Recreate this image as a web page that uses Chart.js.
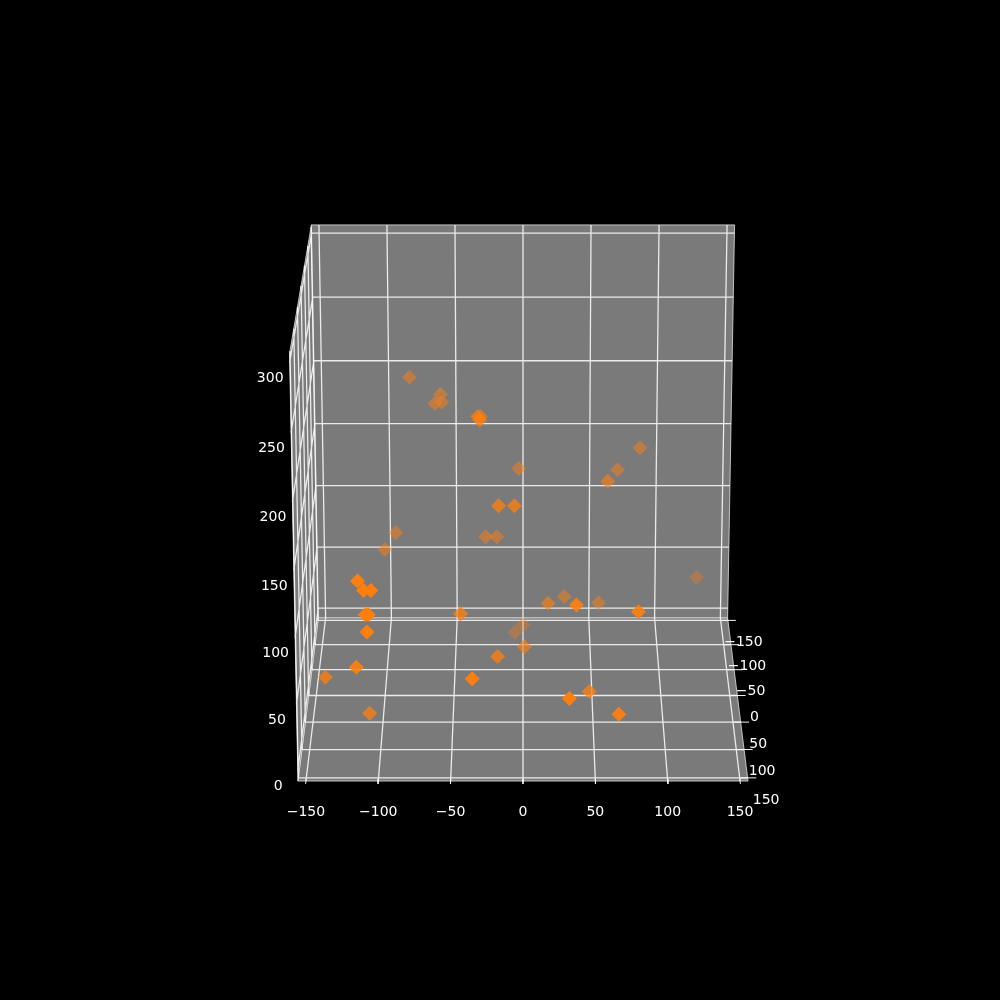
<!DOCTYPE html>
<html>
<head>
<meta charset="utf-8">
<style>
  html, body { margin: 0; padding: 0; background: #000; }
  canvas { display: block; }
</style>
<script src="https://cdn.jsdelivr.net/npm/chart.js"></script>
</head>
<body>
<canvas id="chart" width="1000" height="1000"></canvas>
<script type="text/javascript">

const xTicks = [-150, -100, -50, 0, 50, 100, 150];
const yTicks = [-150, -100, -50, 0, 50, 100, 150];
const zTicks = [0, 50, 100, 150, 200, 250, 300];

const pointX = [-81, -59, -58, -63, -32, -30, -30, 84, 68, -3, 60, -17, -6, -27, -19, -92, -100, 128, -113, -109, -104, -108, -106, -107, -116, -140, -109, -44, 18, 30, 37, 55, 80, 0, -6, 1, -18, -35, 32, 47, 67];
const pointY = [-31, -31, -31, -31, 16, 16, 62, -31, -31, -31, 16, 62, 62, -31, -31, -31, -31, -78, 140, 140, 140, 140, 140, 140, 109, 62, 62, 62, 16, -31, 109, -31, 109, -78, -78, 16, 62, 140, 140, 62, 109];
const pointZ = [228, 215, 209, 208, 214, 214, 227, 174, 157, 158, 165, 163, 163, 105, 105, 108, 95, 55, 136, 129, 129, 111, 111, 98, 59, 32, 4, 81, 71, 58, 106, 53, 101, 17, 11, 37, 48, 63, 48, 21, 23];

// axis limits of the 3d box
const xLim = [-155.5, 155.5];
const yLim = [-155.5, 155.5];
const zLim = [-8, 306.3];

// perspective camera, gives canvas pixels which go through the chart scales
function project(x, y, z) {
    const t = (yLim[1] - y) / (yLim[1] - yLim[0]);
    const h = (z - zLim[0]) / (zLim[1] - zLim[0]);
    const w = 0.691 + 0.069 * t - 0.025 * h;
    return {
        x: 523 + x / w,
        y: 500 - (-194.2 + 104.7 * t + 291.7 * h) / w,
    };
}

function segments(list) {
    const out = [];
    list.forEach(function (s) {
        out.push(project(s[0], s[1], s[2]), project(s[3], s[4], s[5]), { x: null, y: null });
    });
    return out;
}

function pane(corners) {
    return {
        data: corners.map(function (c) { return project(c[0], c[1], c[2]); }),
        showLine: true,
        fill: 'shape',
        backgroundColor: '#7a7a7a',
        borderColor: 'rgba(225,225,225,0.8)',
        borderWidth: 1,
        pointRadius: 0,
        tension: 0,
    };
}

function lines(list, color, width) {
    return {
        data: segments(list),
        showLine: true,
        fill: false,
        borderColor: color,
        borderWidth: width,
        pointRadius: 0,
        spanGaps: false,
        tension: 0,
    };
}

const [x0, x1] = xLim;
const [y0, y1] = yLim;
const [z0, z1] = zLim;

const gridLines = [];
xTicks.forEach(function (v) {
    gridLines.push([v, y0, z0, v, y1, z0]);
    gridLines.push([v, y0, z0, v, y0, z1]);
});
yTicks.forEach(function (v) {
    gridLines.push([x0, v, z0, x1, v, z0]);
    gridLines.push([x0, v, z0, x0, v, z1]);
});
zTicks.forEach(function (v) {
    gridLines.push([x0, y0, v, x1, y0, v]);
    gridLines.push([x0, y0, v, x0, y1, v]);
});

const tickLines = [];
xTicks.forEach(function (v) {
    tickLines.push([v, y1 - 3, z0, v, y1 + 5, z0]);
});
yTicks.forEach(function (v) {
    tickLines.push([x1 - 5, v, z0, x1 + 6, v, z0]);
});

// depth shading, far points fade out, far ones are drawn first
const order = pointY.map(function (_, i) { return i; }).sort(function (a, b) {
    return pointY[a] - pointY[b];
});
const yMin = Math.min(...pointY);
const yMax = Math.max(...pointY);
const scatterData = order.map(function (i) {
    return project(pointX[i], pointY[i], pointZ[i]);
});
const scatterColors = order.map(function (i) {
    const a = 0.35 + 0.65 * (pointY[i] - yMin) / (yMax - yMin);
    return 'rgba(255,127,14,' + a.toFixed(2) + ')';
});

function label(v) {
    return v < 0 ? '\u2212' + Math.abs(v) : String(v);
}

const tickLabels = {
    id: 'tickLabels',
    afterDatasetsDraw(chart) {
        const ctx = chart.ctx;
        const sx = chart.scales.x;
        const sy = chart.scales.y;
        function put(text, p, dx, dy) {
            ctx.fillText(text, sx.getPixelForValue(p.x) + dx, sy.getPixelForValue(p.y) + dy);
        }
        ctx.save();
        ctx.font = '14px "DejaVu Sans"';
        ctx.fillStyle = '#fff';
        ctx.textAlign = 'center';
        ctx.textBaseline = 'middle';
        xTicks.forEach(function (v) { put(label(v), project(v, y1, z0), 0, 31); });
        yTicks.forEach(function (v) { put(label(v), project(x1, v, z0), 17 + v / 100, 22); });
        zTicks.forEach(function (v) { put(label(v), project(x0, y1, v), -19.5, 16); });
        ctx.restore();
    },
};

new Chart(document.getElementById('chart').getContext('2d'), {
    type: 'scatter',
    data: {
        datasets: [
            {
                data: scatterData,
                pointStyle: 'rectRot',
                pointRadius: 7.5,
                pointBorderWidth: 0,
                pointBackgroundColor: scatterColors,
                showLine: false,
                order: 0,
            },
            Object.assign(lines(tickLines, 'rgba(255,255,255,0.95)', 1), { order: 1 }),
            Object.assign(lines(gridLines, 'rgba(255,255,255,0.85)', 1.3), { order: 2 }),
            Object.assign(pane([[x0, y0, z0], [x1, y0, z0], [x1, y0, z1], [x0, y0, z1], [x0, y0, z0]]), { order: 3 }),
            Object.assign(pane([[x0, y0, z0], [x0, y1, z0], [x0, y1, z1], [x0, y0, z1], [x0, y0, z0]]), { order: 4 }),
            Object.assign(pane([[x0, y0, z0], [x1, y0, z0], [x1, y1, z0], [x0, y1, z0], [x0, y0, z0]]), { order: 5 }),
        ],
    },
    options: {
        responsive: false,
        animation: false,
        layout: { padding: 0, autoPadding: false },
        plugins: { legend: { display: false }, tooltip: { enabled: false } },
        scales: {
            x: { type: 'linear', display: false, min: 0, max: 1000 },
            y: { type: 'linear', display: false, min: 0, max: 1000, reverse: true },
        },
    },
    plugins: [tickLabels],
});
</script>
</body>
</html>
